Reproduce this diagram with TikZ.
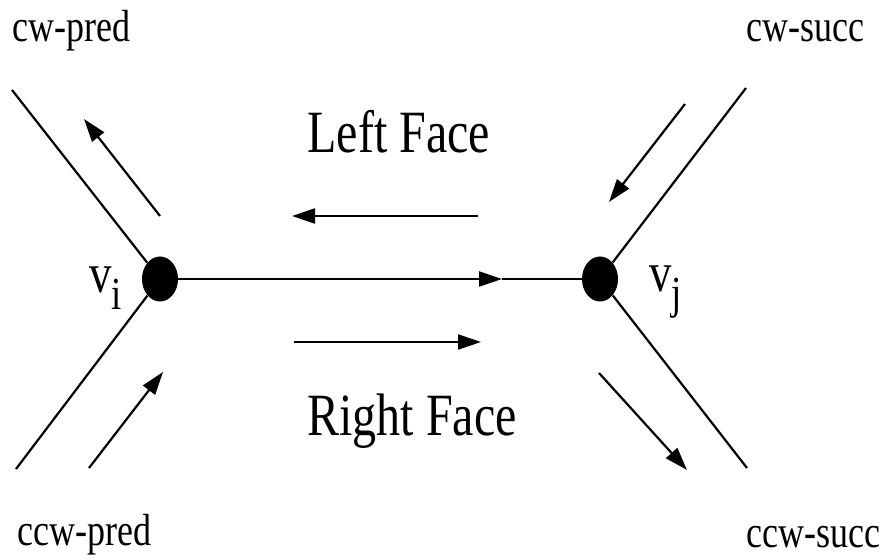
\documentclass[tikz,border=0pt]{standalone}
\usepackage{fontspec}
\setmainfont{Liberation Serif}[FakeStretch=0.8]
\usetikzlibrary{arrows.meta,shapes.geometric}
\tikzset{
  vtx/.style={ellipse,fill=black,minimum width=18pt,minimum height=22.5pt,inner sep=0pt},
  edgeline/.style={line width=1.1pt,draw=black},
  dirarrow/.style={-{Triangle[length=11.5pt,width=7.5pt]},line width=1.1pt,draw=black},
  endlabel/.style={anchor=base west,inner sep=0pt,font=\fontsize{22.5}{24}\selectfont},
  facelabel/.style={anchor=base west,inner sep=0pt,font=\fontsize{30}{32}\selectfont},
  vlabel/.style={anchor=base west,inner sep=0pt,font=\fontsize{28}{30}\selectfont}
}
\newcommand{\vsub}[1]{\raisebox{-8.5pt}{\fontsize{23}{25}\selectfont #1}}

\begin{document}
\begin{tikzpicture}[x=0.5pt,y=-0.5pt]
  \useasboundingbox (0,0) rectangle (886,560);
  % vertices
  \node[vtx] (vi) at (160,279) {};
  \node[vtx] (vj) at (600,279) {};
  \node[vlabel] (vilab) at (89,293) {v\vsub{i}};
  \node[vlabel] (vjlab) at (649,292) {v\vsub{j}};
  % neighbour labels
  \node[endlabel] (cwpred) at (12,42) {cw-pred};
  \node[endlabel] (cwsucc) at (746,42) {cw-succ};
  \node[endlabel] (ccwpred) at (17,545) {ccw-pred};
  \node[endlabel] (ccwsucc) at (746,547) {ccw-succ};
  \node[facelabel] (lface) at (307,153) {Left Face};
  \node[facelabel] (rface) at (307,435) {Right Face};
  % free ends of the wing edges
  \coordinate (ul) at (12,90);  \coordinate (ur) at (746,88);
  \coordinate (ll) at (16,469); \coordinate (lr) at (747,468);
  \draw[edgeline] (ul) -- (vi); \draw[edgeline] (ll) -- (vi);
  \draw[edgeline] (ur) -- (vj); \draw[edgeline] (lr) -- (vj);
  % main edge with mid arrow
  \coordinate (mid) at (502,279);
  \draw[dirarrow] (vi) -- (mid); \draw[edgeline] (mid) -- (vj);
  % traversal arrows
  \coordinate (ulA) at (160,216); \coordinate (ulB) at (84,119);
  \coordinate (urA) at (685,104); \coordinate (urB) at (609,202);
  \coordinate (llA) at (89,468);  \coordinate (llB) at (163,372);
  \coordinate (lrA) at (599,373); \coordinate (lrB) at (687,470);
  \coordinate (lfA) at (478,216); \coordinate (lfB) at (292,216);
  \coordinate (rfA) at (294,342); \coordinate (rfB) at (481,342);
  \draw[dirarrow] (ulA) -- (ulB); \draw[dirarrow] (urA) -- (urB);
  \draw[dirarrow] (llA) -- (llB); \draw[dirarrow] (lrA) -- (lrB);
  \draw[dirarrow] (lfA) -- (lfB); \draw[dirarrow] (rfA) -- (rfB);
\end{tikzpicture}
\end{document}
